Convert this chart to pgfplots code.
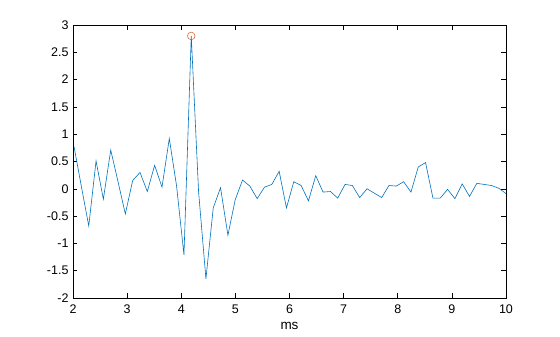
\documentclass[border=0pt]{standalone}
\usepackage{fontspec}
\setmainfont{Liberation Sans}
\usepackage{pgfplots}
\pgfplotsset{compat=1.18}
\definecolor{mblue}{rgb}{0,0.447,0.741}
\definecolor{morange}{rgb}{0.85,0.325,0.098}
\begin{document}
\begin{tikzpicture}
\path[use as bounding box] (-73pt,-39pt) rectangle (487pt,298pt);
\begin{axis}[
  scale only axis,
  width=433pt, height=273pt,
  xmin=2, xmax=10, ymin=-2, ymax=3,
  xtick={2,3,...,10},
  ytick={-2,-1.5,...,3},
  yticklabels={-2,-1.5,-1,-0.5,0,0.5,1,1.5,2,2.5,3},
  tick align=inside,
  major tick length=4.5pt,
  tick style={black, line width=0.5pt},
  axis line style={black, line width=0.5pt},
  /pgf/number format/assume math mode=true,
  ticklabel style={font=\fontsize{12.5}{14}\selectfont},
  xlabel={ms},
  xlabel style={font=\fontsize{13.5}{15}\selectfont, yshift=-2pt},
  xticklabel style={yshift=-3pt},
  yticklabel style={xshift=-1pt},
  clip=true,
]
\addplot[mblue, line width=0.6pt, mark=none] coordinates {
(2.020,0.77) (2.155,0.04) (2.291,-0.68) (2.426,0.51) (2.561,-0.19)
(2.697,0.71) (2.832,0.13) (2.967,-0.46) (3.102,0.15) (3.238,0.30)
(3.373,-0.05) (3.508,0.43) (3.644,0.03) (3.779,0.92) (3.914,0.05)
(4.050,-1.21) (4.185,2.80) (4.320,-0.05) (4.456,-1.65) (4.591,-0.35)
(4.726,0.02) (4.862,-0.85) (4.997,-0.20) (5.132,0.16) (5.267,0.05)
(5.403,-0.18) (5.538,0.03) (5.673,0.08) (5.809,0.32) (5.944,-0.35)
(6.079,0.13) (6.215,0.06) (6.350,-0.22) (6.485,0.24) (6.620,-0.06)
(6.756,-0.05) (6.891,-0.17) (7.026,0.08) (7.161,0.06) (7.297,-0.16)
(7.432,0.00) (7.567,-0.08) (7.703,-0.16) (7.838,0.06) (7.973,0.05)
(8.109,0.13) (8.244,-0.06) (8.379,0.40) (8.514,0.48) (8.650,-0.17)
(8.785,-0.17) (8.920,-0.01) (9.056,-0.18) (9.191,0.09) (9.326,-0.14)
(9.461,0.10) (9.597,0.08) (9.732,0.06) (9.867,0.01) (10.003,-0.09)
};
\addplot[morange, only marks, mark=o, mark size=3.8pt, line width=0.5pt] coordinates {(4.185,2.80)};
\end{axis}
\end{tikzpicture}
\end{document}
